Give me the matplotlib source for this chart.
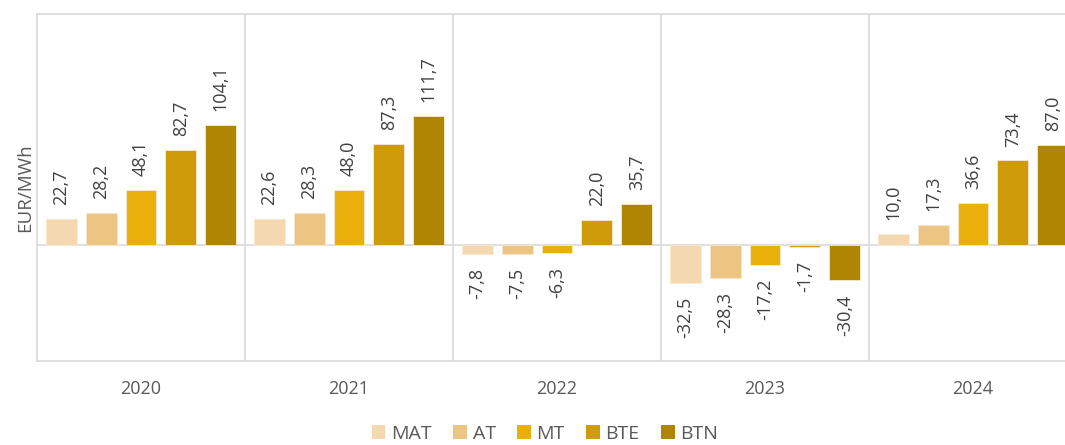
import matplotlib.pyplot as plt
import numpy as np
from matplotlib.patches import Patch

# Chart data
years = ['2020', '2021', '2022', '2023', '2024']
series = ['MAT', 'AT', 'MT', 'BTE', 'BTN']
mat = [22.7, 22.6, -7.8, -32.5, 10.0]
at = [28.2, 28.3, -7.5, -28.3, 17.3]
mt = [48.1, 48.0, -6.3, -17.2, 36.6]
bte = [82.7, 87.3, 22.0, -1.7, 73.4]
btn = [104.1, 111.7, 35.7, -30.4, 87.0]
values = [mat, at, mt, bte, btn]
colors = ['#F3D8B0', '#EDC583', '#E9B00C', '#CE9B0A', '#AF8504']

plt.rcParams['font.family'] = ['Open Sans', 'DejaVu Sans']

fig = plt.figure(figsize=(10.65, 4.45), dpi=100)
ax = fig.add_axes([37 / 1065, 1 - 361 / 445, 1040 / 1065, 347 / 445])

x = np.arange(len(years))
step = 0.192
width = 0.149
grid_c = '#D9D9D9'
text_c = '#595959'

for i, (name, vals, col) in enumerate(zip(series, values, colors)):
    pos = x + (i - 2) * step
    ax.bar(pos, vals, width, color=col, edgecolor='#F6E9D2', linewidth=0.6,
           zorder=3, label=name)
    for xp, v in zip(pos, vals):
        lbl = f'{v:.1f}'.replace('.', ',')
        ax.annotate(lbl, (xp, v), xytext=(0, 10 if v >= 0 else -10),
                    textcoords='offset points', rotation=90, ha='center',
                    va='bottom' if v >= 0 else 'top', fontsize=13, color='#404040')

ax.set_xlim(-0.5, 4.5)
ax.set_ylim(-100, 200)
ax.axhline(0, color=grid_c, lw=1.2, zorder=2)
for sep in x[:-1] + 0.5:
    ax.axvline(sep, color=grid_c, lw=1.2, zorder=1)
for s in ax.spines.values():
    s.set_color(grid_c)
    s.set_linewidth(1.2)

ax.set_yticks([])
ax.set_xticks(x)
ax.set_xticklabels(years, fontsize=13, color=text_c)
ax.tick_params(axis='x', length=0, pad=14)
ax.set_ylabel('EUR/MWh', fontsize=13.5, color=text_c, labelpad=2)

handles = [Patch(facecolor=c, edgecolor='none', label=n) for n, c in zip(series, colors)]
fig.legend(handles=handles, loc='center', bbox_to_anchor=(545 / 1065, 1 - 434 / 445),
           ncol=5, frameon=False, fontsize=14, handlelength=0.7, handleheight=0.7,
           handletextpad=0.3, columnspacing=1.1, labelcolor=text_c)

fig.savefig('out.png', dpi=100)
